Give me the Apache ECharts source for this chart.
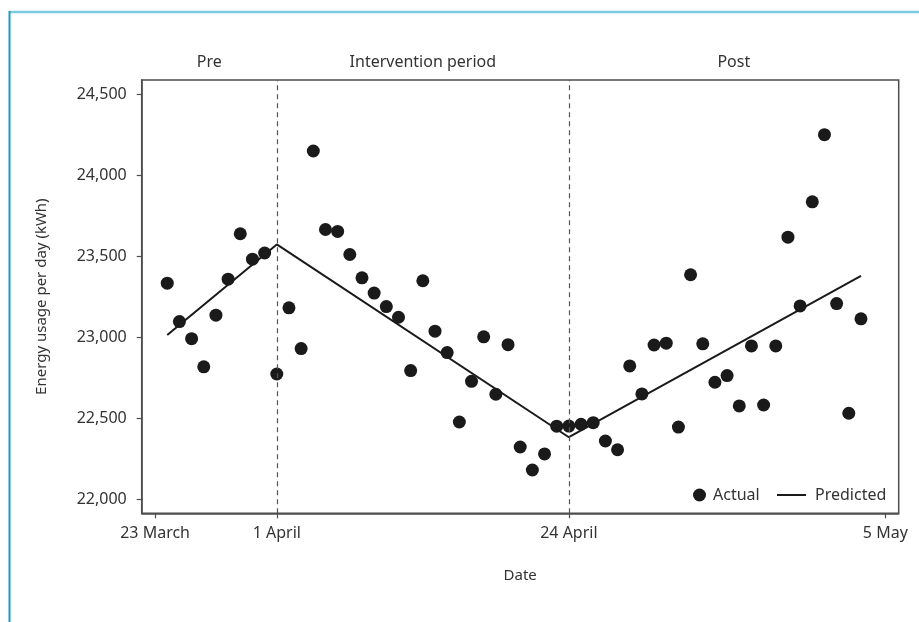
<!DOCTYPE html>
<html>
<head>
<meta charset="utf-8">
<script src="https://cdn.jsdelivr.net/npm/echarts@6/dist/echarts.min.js"></script>
<style>html,body{margin:0;padding:0;background:#fff}#c{width:919px;height:622px}</style>
</head>
<body>
<div id="c"></div>
<script>
// Day index (0 = 23 March tick)
const actualX = [1,2,3,4,5,6,7,8,9,10,11,12,13,14,15,16,17,18,19,20,21,22,23,24,25,26,27,28,29,30,31,32,33,34,35,36,37,38,39,40,41,42,43,44,45,46,47,48,49,50,51,52,53,54,55,56,57,58];
const actualY = [23333,23096,22991,22817,23136,23358,23638,23481,23519,22773,23181,22930,24148,23664,23652,23510,23366,23272,23189,23123,22794,23348,23037,22905,22477,22728,23002,22648,22954,22323,22181,22280,22451,22452,22463,22473,22360,22306,22823,22650,22952,22963,22446,23385,22959,22722,22763,22576,22946,22582,22946,23617,23193,23835,24249,23207,22531,23113];
const predictedX = [1,10,34,58];
const predictedY = [23014,23572,22383,23378];
const periodBounds = [-1.1,10,34,61.1];
const periodNames = ['Pre','Intervention period','Post'];
const breakX = [10,34];
const xTickValues = [0,10,34,60];
const xTickLabels = ['23 March','1 April','24 April','5 May'];
const yTickValues = [22000,22500,23000,23500,24000,24500];

const FONT = 'Noto Sans';
const TXT = '#333';
const AX = '#4d4d4d';
const chart = echarts.init(document.getElementById('c'), null, {renderer:'canvas'});
chart.setOption({
  backgroundColor:'#fff',
  animation:false,
  textStyle:{fontFamily:FONT},
  grid:{left:141.7,right:20.3,top:80,bottom:108.7,show:true,borderColor:AX,borderWidth:1.5,backgroundColor:'transparent'},
  xAxis:{
    type:'value',min:periodBounds[0],max:periodBounds[3],
    name:'Date',nameLocation:'middle',nameGap:55,
    nameTextStyle:{fontSize:15,color:TXT,fontFamily:FONT},
    axisLine:{show:true,onZero:false,lineStyle:{color:AX,width:1.5}},
    splitLine:{show:false},
    axisTick:{show:true,length:5,inside:false,customValues:xTickValues,lineStyle:{color:AX,width:1.2}},
    axisLabel:{customValues:xTickValues,margin:12,fontSize:16,color:TXT,fontFamily:FONT,
      formatter:v=>{const i=xTickValues.indexOf(v);return i>=0?xTickLabels[i]:'';}}
  },
  yAxis:{
    type:'value',min:21914,max:24586,
    name:'Energy usage per day (kWh)',nameLocation:'middle',nameGap:92,
    nameTextStyle:{fontSize:15,color:TXT,fontFamily:FONT},
    axisLine:{show:true,onZero:false,lineStyle:{color:AX,width:1.5}},
    splitLine:{show:false},
    axisTick:{show:true,length:5,inside:false,customValues:yTickValues,lineStyle:{color:AX,width:1.2}},
    axisLabel:{customValues:yTickValues,margin:15,fontSize:16,color:TXT,fontFamily:FONT,
      formatter:v=>v.toLocaleString('en-US')}
  },
  legend:[
    {data:['Actual'],left:693,top:487,padding:0,itemWidth:13,itemHeight:13,icon:'circle',
     textStyle:{fontSize:16,color:TXT,fontFamily:FONT,padding:[0,0,0,2]}},
    {data:['Predicted'],left:777,top:487,padding:0,itemWidth:29,itemHeight:2,icon:'rect',
     textStyle:{fontSize:16,color:TXT,fontFamily:FONT,padding:[0,0,0,4]}}
  ],
  graphic:[
    {type:'line',shape:{x1:9,y1:12,x2:919,y2:12},style:{stroke:'#7ccbe0',lineWidth:2.5},z:100},
    {type:'line',shape:{x1:9.5,y1:11,x2:9.5,y2:622},style:{stroke:'#1b9bc2',lineWidth:2},z:100}
  ],
  series:[
    {
      name:'Predicted',type:'line',
      data:predictedX.map((x,i)=>[x,predictedY[i]]),
      symbol:'none',lineStyle:{color:'#1a1a1a',width:2},itemStyle:{color:'#1a1a1a'},z:3,
      markLine:{silent:true,symbol:'none',label:{show:false},
        lineStyle:{color:'#555',type:[5,4],width:1.2},
        data:breakX.map(x=>({xAxis:x}))},
      markArea:{silent:true,itemStyle:{color:'rgba(0,0,0,0)'},
        label:{show:true,position:'top',distance:10,fontSize:16,color:TXT,fontFamily:FONT},
        data:periodNames.map((n,i)=>[{name:n,xAxis:periodBounds[i]},{xAxis:periodBounds[i+1]}])}
    },
    {
      name:'Actual',type:'scatter',
      data:actualX.map((x,i)=>[x,actualY[i]]),
      symbol:'circle',symbolSize:13,itemStyle:{color:'#1a1a1a',opacity:1},z:4
    }
  ]
});
</script>
</body>
</html>
